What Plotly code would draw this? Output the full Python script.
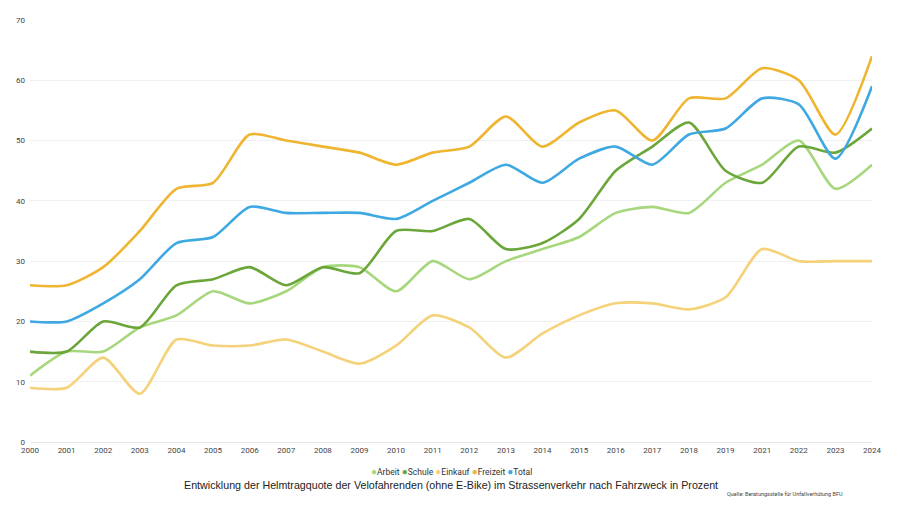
import plotly.graph_objects as go

years = ["2000", "2001", "2002", "2003", "2004", "2005", "2006", "2007", "2008", "2009",
         "2010", "2011", "2012", "2013", "2014", "2015", "2016", "2017", "2018", "2019",
         "2021", "2022", "2023", "2024"]

arbeit = [11, 15, 15, 19, 21, 25, 23, 25, 29, 29, 25, 30, 27, 30, 32, 34, 38, 39, 38, 43, 46, 50, 42, 46]
schule = [15, 15, 20, 19, 26, 27, 29, 26, 29, 28, 35, 35, 37, 32, 33, 37, 45, 49, 53, 45, 43, 49, 48, 52]
einkauf = [9, 9, 14, 8, 17, 16, 16, 17, 15, 13, 16, 21, 19, 14, 18, 21, 23, 23, 22, 24, 32, 30, 30, 30]
freizeit = [26, 26, 29, 35, 42, 43, 51, 50, 49, 48, 46, 48, 49, 54, 49, 53, 55, 50, 57, 57, 62, 60, 51, 64]
total = [20, 20, 23, 27, 33, 34, 39, 38, 38, 38, 37, 40, 43, 46, 43, 47, 49, 46, 51, 52, 57, 56, 47, 59]

series_names = ["Arbeit", "Schule", "Einkauf", "Freizeit", "Total"]
series_values = [arbeit, schule, einkauf, freizeit, total]
colors = ["#a6d77c", "#6ba63a", "#f5d27a", "#efb530", "#3ea8e2"]

title_text = "Entwicklung der Helmtragquote der Velofahrenden (ohne E-Bike) im Strassenverkehr nach Fahrzweck in Prozent"
source_text = "Quelle: Beratungsstelle für Unfallverhütung BFU"

fig = go.Figure()
for name, vals, col in zip(series_names, series_values, colors):
    fig.add_trace(go.Scatter(
        x=years, y=vals, mode="lines", name=name,
        line=dict(color=col, width=2.6, shape="spline", smoothing=0.7),
        showlegend=False, hoverinfo="x+y+name",
    ))

fig.update_layout(
    width=900, height=506,
    margin=dict(l=22, r=36, t=12, b=72, autoexpand=False),
    paper_bgcolor="white", plot_bgcolor="white",
    font=dict(family="Roboto", size=8, color="#444"),
    showlegend=False,
    xaxis=dict(
        type="category", range=[0, 23], showgrid=False, automargin=False,
        showline=True, linecolor="#e6e6e6", linewidth=1,
        ticks="", tickfont=dict(size=8, color="#444"), fixedrange=True,
    ),
    yaxis=dict(
        range=[0, 70], dtick=10, showgrid=True, gridcolor="#f0f0f0",
        zeroline=False, ticks="", tickfont=dict(size=8, color="#444"),
        automargin=False, ticklabelstandoff=4,
    ),
)

legend_html = " ".join(
    f"<span style='color:{c}; font-size:10px'>●</span>{n}" for n, c in zip(series_names, colors)
)
fig.add_annotation(
    text=legend_html, xref="paper", yref="paper", x=0.5, xanchor="center",
    y=-0.052, yanchor="top", showarrow=False,
    font=dict(family="Roboto", size=8.5, color="#333"),
)
fig.add_annotation(
    text=title_text, xref="paper", yref="paper", x=0.5, xanchor="center",
    y=-0.083, yanchor="top", showarrow=False,
    font=dict(family="Liberation Sans", size=10.7, color="#222"),
)
fig.add_annotation(
    text=source_text, xref="paper", yref="paper", x=0.968, xanchor="right",
    y=-0.112, yanchor="top", showarrow=False,
    font=dict(family="Roboto", size=5.5, color="#444"),
)

fig.write_html("out.html")
